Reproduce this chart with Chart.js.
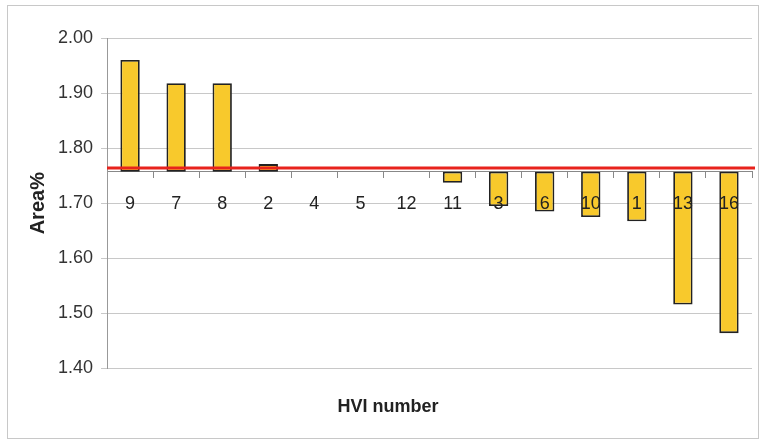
<!DOCTYPE html>
<html>
<head>
<meta charset="utf-8">
<script src="https://cdn.jsdelivr.net/npm/chart.js@4.4.0/dist/chart.umd.min.js"></script>
<style>
  html, body { margin: 0; padding: 0; background: #fff; }
  #wrap { position: relative; width: 763px; height: 443px; }
  #frame { position: absolute; left: 7px; top: 5px; width: 752px; height: 434px; border: 1px solid #c8c8c8; box-sizing: border-box; }
</style>
</head>
<body>
<div id="wrap">
  <div id="frame"></div>
  <canvas id="hviChart" width="763" height="443"></canvas>
</div>
<script>
// HVI numbers in plotted order
var hviLabels = ["9", "7", "8", "2", "4", "5", "12", "11", "3", "6", "10", "1", "13", "16"];
// Area% per HVI (bars hang from the axis base)
var areaValues = [1.96, 1.918, 1.918, 1.771, 1.757, 1.757, 1.757, 1.737, 1.695, 1.685, 1.675, 1.667, 1.516, 1.464];
var axisBase = 1.757;   // where the category axis crosses
var refLevel = 1.764;   // red reference line
var yTicks = [1.40, 1.50, 1.60, 1.70, 1.80, 1.90, 2.00];

var font = "'Liberation Sans', Arial, sans-serif";

var refLine = {
    id: "refLine",
    afterDatasetsDraw: function (chart) {
        var ctx = chart.ctx;
        var y = chart.scales.y.getPixelForValue(refLevel);
        ctx.save();
        ctx.strokeStyle = "#e8231c";
        ctx.lineWidth = 3;
        ctx.beginPath();
        ctx.moveTo(chart.chartArea.left, y);
        ctx.lineTo(chart.chartArea.right + 3, y);
        ctx.stroke();
        ctx.restore();
    }
};

new Chart(document.getElementById("hviChart"), {
    type: "bar",
    data: {
        labels: hviLabels,
        datasets: [{
            data: areaValues.map(function (v) { return [axisBase, v]; }),
            backgroundColor: "#f8c92c",
            borderColor: "#222",
            borderWidth: 1.8,
            borderSkipped: false,
            categoryPercentage: 1,
            barPercentage: 0.42
        }]
    },
    options: {
        responsive: false,
        animation: false,
        layout: { padding: { left: 24, right: 11, top: 38, bottom: 8 } },
        plugins: {
            legend: { display: false },
            tooltip: { enabled: false },
            title: {
                display: true,
                position: "bottom",
                text: "HVI number",
                color: "#222",
                font: { family: font, size: 18, weight: "bold" },
                padding: { top: 28, bottom: 17 }
            }
        },
        scales: {
            x: {
                position: { y: axisBase },
                grid: { display: true, drawOnChartArea: false, drawTicks: true, tickLength: 6, color: "#888" },
                border: { display: true, color: "#888" },
                ticks: { z: 1, color: "#222", font: { family: font, size: 18 }, padding: 15, maxRotation: 0 }
            },
            y: {
                min: 1.4,
                max: 2.0,
                afterBuildTicks: function (scale) {
                    scale.ticks = yTicks.map(function (v) { return { value: v }; });
                },
                grid: { color: "#c8c8c8", tickLength: 6 },
                border: { display: true, color: "#999" },
                ticks: {
                    color: "#333",
                    font: { family: font, size: 18 },
                    padding: 8,
                    callback: function (v) { return Number(v).toFixed(2); }
                },
                title: {
                    display: true,
                    text: "Area%",
                    color: "#222",
                    font: { family: font, size: 20, weight: "bold" },
                    padding: { top: 2, bottom: 0 }
                }
            }
        }
    },
    plugins: [refLine]
});
</script>
</body>
</html>
